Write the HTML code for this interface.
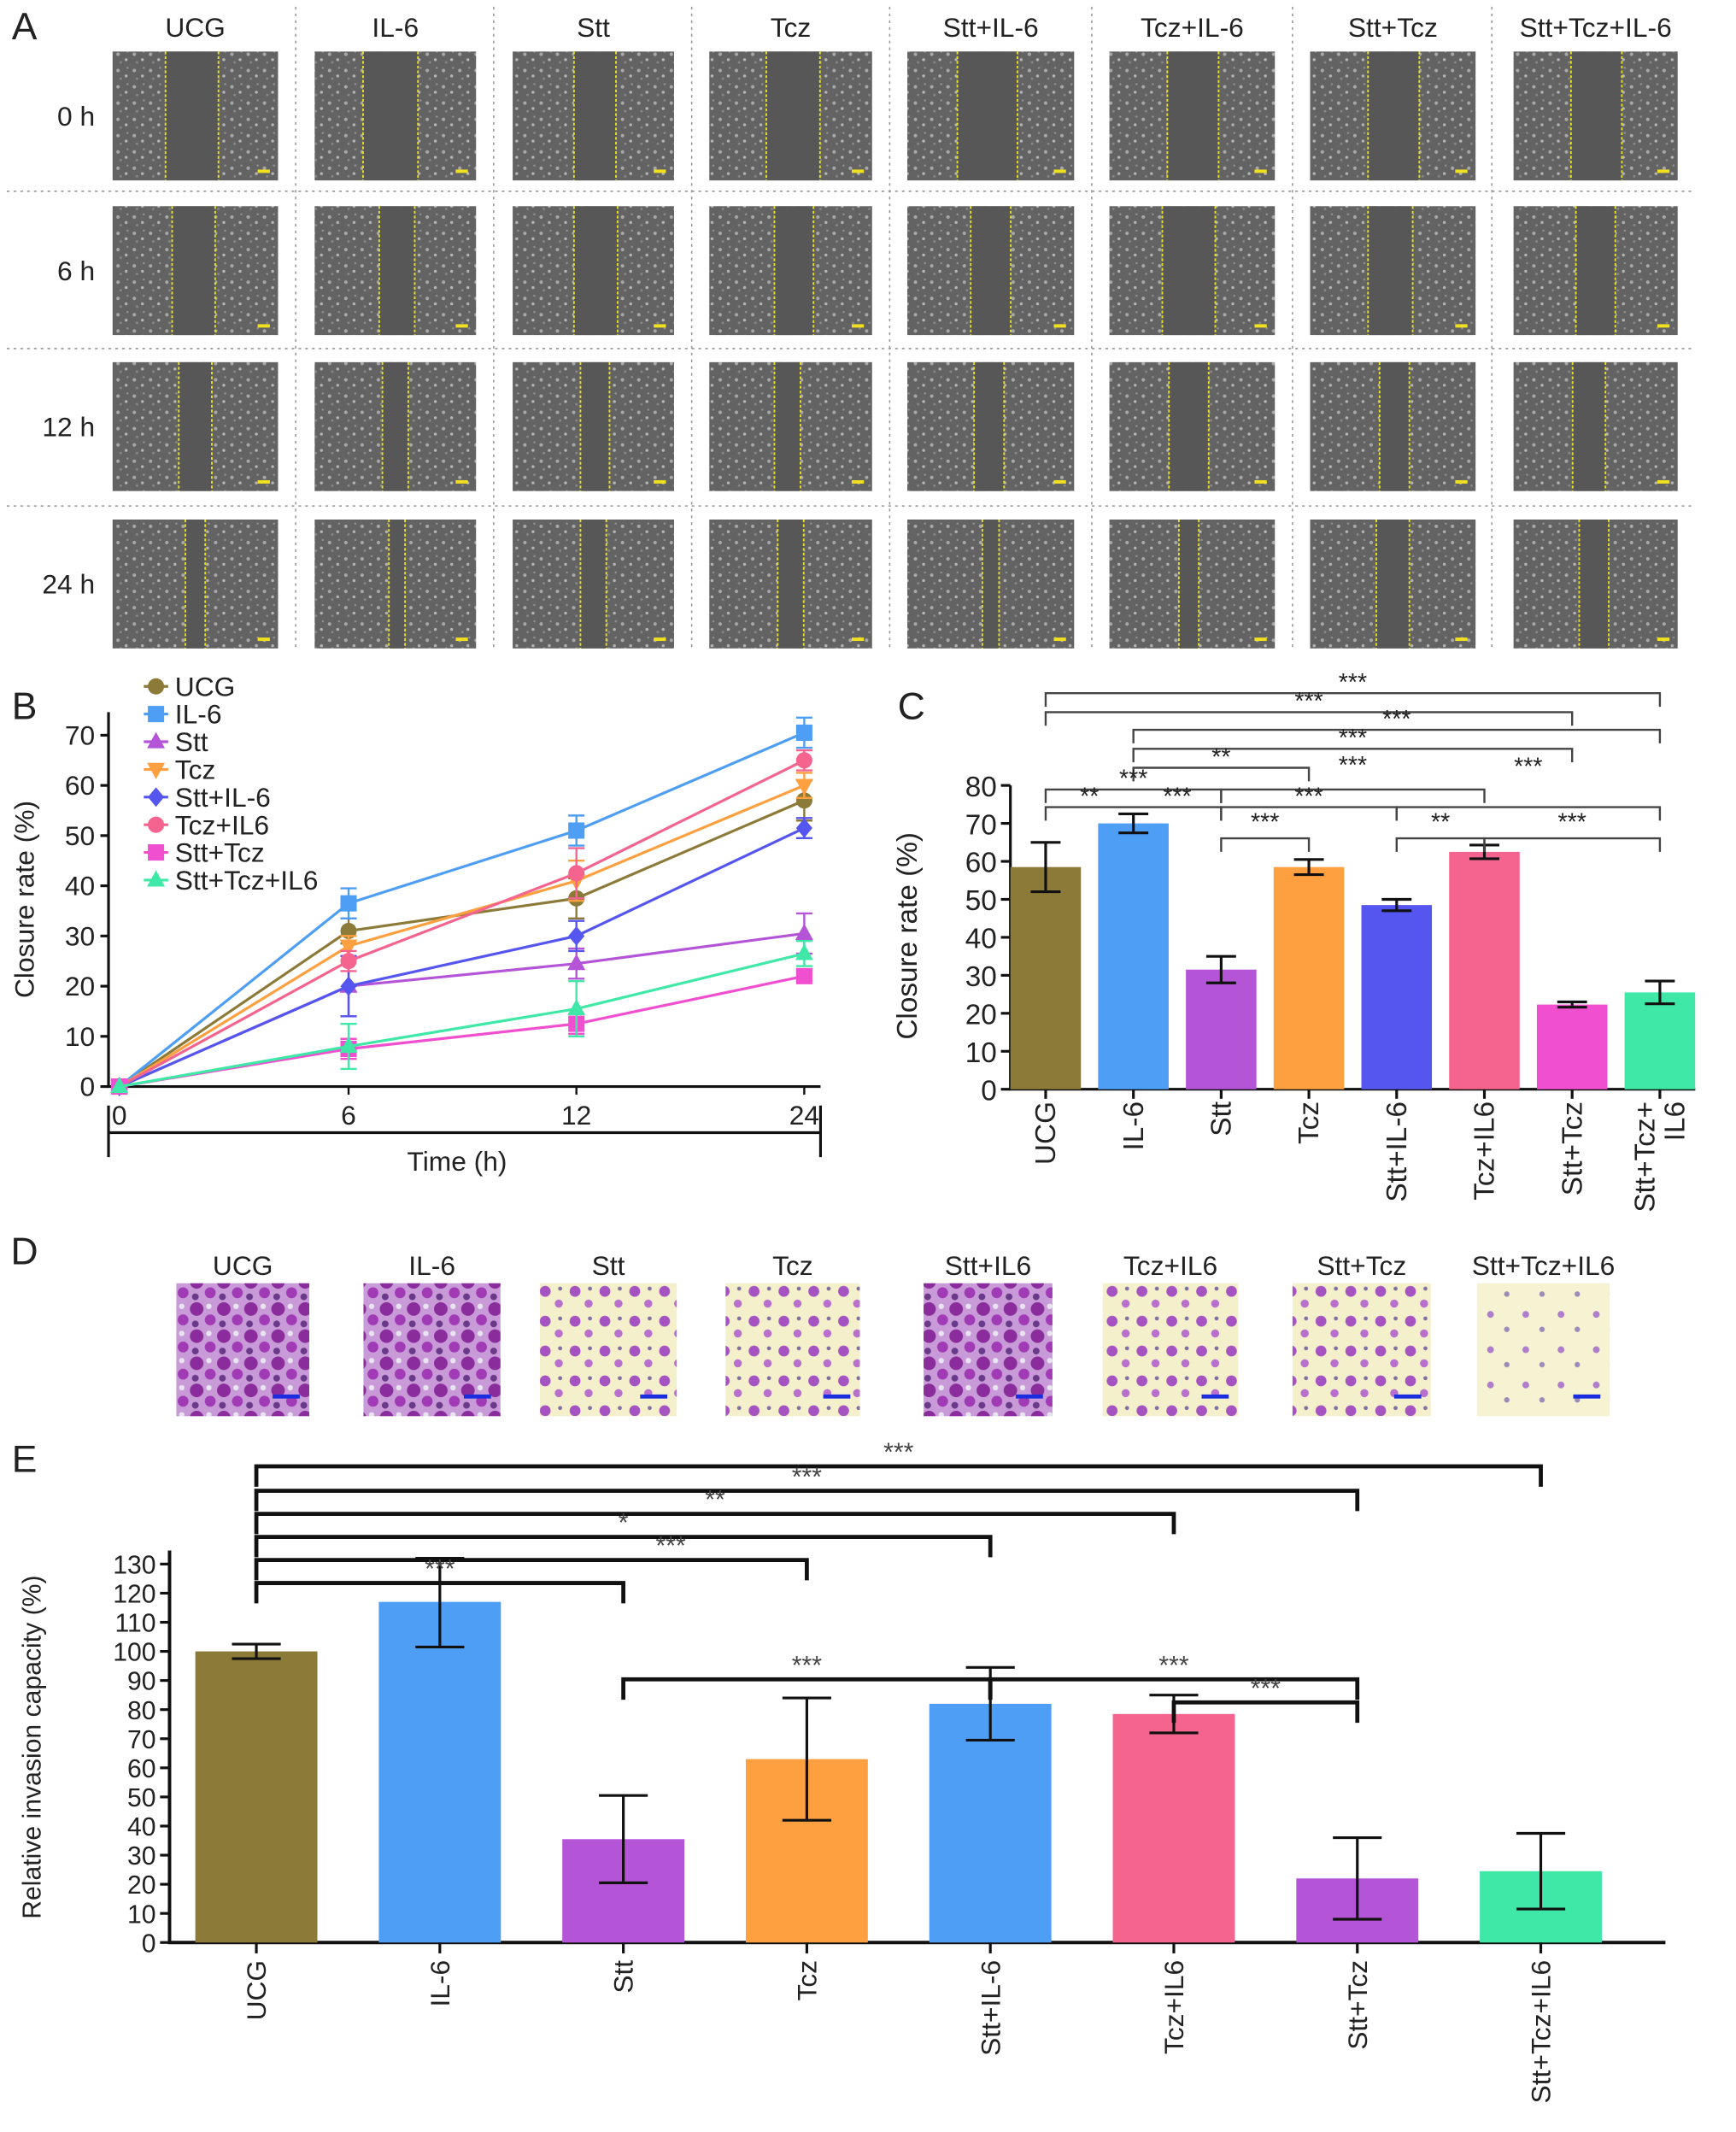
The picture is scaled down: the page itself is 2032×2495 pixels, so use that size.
<!DOCTYPE html>
<html><head><meta charset="utf-8"><style>
html,body{margin:0;padding:0;background:#fff}
svg{display:block;font-family:"Liberation Sans",Arial,sans-serif}
</style></head><body>
<svg id="fig" width="2032" height="2495" viewBox="0 0 1280 1571.7">
<defs>
<pattern id="cells" width="12" height="12" patternUnits="userSpaceOnUse">
<rect width="12" height="12" fill="#636363"/>
<circle cx="3" cy="4" r="1.3" fill="#a8a8a8"/><circle cx="9" cy="8" r="1.1" fill="#b5b5b5"/><circle cx="5" cy="10" r="0.9" fill="#888"/><circle cx="10" cy="2" r="0.8" fill="#909090"/>
</pattern>
<pattern id="inv1" width="20" height="20" patternUnits="userSpaceOnUse">
<rect width="20" height="20" fill="#c99ad8"/>
<circle cx="5" cy="5" r="5" fill="#8a2c9c"/><circle cx="15" cy="13" r="4" fill="#a03bb5"/><circle cx="14" cy="3" r="2" fill="#e8e4f0"/><circle cx="4" cy="16" r="2.5" fill="#6a3a8a"/>
</pattern>
<pattern id="inv2" width="22" height="22" patternUnits="userSpaceOnUse">
<rect width="22" height="22" fill="#f4f0cc"/>
<circle cx="6" cy="6" r="4" fill="#a553c0"/><circle cx="16" cy="15" r="3" fill="#b870cc"/><circle cx="17" cy="4" r="1.5" fill="#8070a0"/>
</pattern>
<pattern id="inv3" width="26" height="26" patternUnits="userSpaceOnUse">
<rect width="26" height="26" fill="#f6f3d2"/>
<circle cx="7" cy="7" r="2.5" fill="#b07ccc"/><circle cx="19" cy="18" r="2" fill="#9a8cb8"/>
</pattern>
</defs>
<g id="panelA"></g><g id="panelB"></g><g id="panelC"></g><g id="panelD"></g><g id="panelE"></g>
</svg>
<script>
// ---------- data ----------
const groupsA = ["UCG","IL-6","Stt","Tcz","Stt+IL-6","Tcz+IL-6","Stt+Tcz","Stt+Tcz+IL-6"];
const timesA = ["0 h","6 h","12 h","24 h"];
const timeVals = [0,6,12,24];
const seriesNames = ["UCG","IL-6","Stt","Tcz","Stt+IL-6","Tcz+IL6","Stt+Tcz","Stt+Tcz+IL6"];
const seriesColors = ["#8b7a38","#4e9ef5","#b455d8","#ffa040","#5555f0","#f5648f","#f050d0","#40e8a8"];
const markers = ["circle","square","tri","tridown","diamond","circle","square","tri"];
const ucgVals = [0,31,37.5,57];
const il6Vals = [0,36.5,51,70.5];
const sttVals = [0,20,24.5,30.5];
const tczVals = [0,28,41,60];
const sttIl6Vals = [0,20,30,51.5];
const tczIl6Vals = [0,25,42.5,65];
const sttTczVals = [0,7.5,12.5,22];
const allVals = [0,8,15.5,26.5];
const ucgErr = [0,2.5,4,4];
const il6Err = [0,3,3,3];
const sttErr = [0,6,3,4];
const tczErr = [0,2,4,2.5];
const sttIl6Err = [0,6,3,2];
const tczIl6Err = [0,2,5,2];
const sttTczErr = [0,2,2,1];
const allErr = [0,4.5,5.5,2.5];
const lineVals = [ucgVals,il6Vals,sttVals,tczVals,sttIl6Vals,tczIl6Vals,sttTczVals,allVals];
const lineErrs = [ucgErr,il6Err,sttErr,tczErr,sttIl6Err,tczIl6Err,sttTczErr,allErr];
const yTicksB = [0,10,20,30,40,50,60,70];

const catsC = ["UCG","IL-6","Stt","Tcz","Stt+IL-6","Tcz+IL6","Stt+Tcz","Stt+Tcz+|IL6"];
const valsC = [58.5,70,31.5,58.5,48.5,62.5,22.3,25.5];
const errC = [6.5,2.5,3.5,2,1.5,1.8,0.7,3];
const colorsC = ["#8b7a38","#4e9ef5","#b455d8","#ffa040","#5555f0","#f5648f","#f050d0","#40e8a8"];
const yTicksC = [0,10,20,30,40,50,60,70,80];
const sigC = [[0,7,511,"***"],[0,6,525,"***"],[1,7,538,"***"],[1,6,552,"***"],[1,3,566,"**"],
  [0,2,582,"***"],[2,5,582,"***"],[0,2,595,"**|***"],[2,4,595,"***"],[4,7,595,"***"],
  [2,3,618,"***"],[4,5,618,"**"],[5,7,618,"***"]];

const catsD = ["UCG","IL-6","Stt","Tcz","Stt+IL6","Tcz+IL6","Stt+Tcz","Stt+Tcz+IL6"];

const catsE = ["UCG","IL-6","Stt","Tcz","Stt+IL-6","Tcz+IL6","Stt+Tcz","Stt+Tcz+IL6"];
const valsE = [100,117,35.5,63,82,78.5,22,24.5];
const errUpE = [2.5,15,15,21,12.5,6.5,14,13];
const errDnE = [2.5,15.5,15,21,12.5,6.5,14,13];
const colorsE = ["#8b7a38","#4e9ef5","#b455d8","#ffa040","#4e9ef5","#f5648f","#b455d8","#40e8a8"];
const yTicksE = [0,10,20,30,40,50,60,70,80,90,100,110,120,130];
const sigE = [[0,7,1081,"***"],[0,6,1099,"***"],[0,5,1116,"**"],[0,4,1133,"*"],[0,3,1150,"***"],[0,2,1167,"***"],
  [2,4,1238,"***"],[4,6,1238,"***"],[5,6,1255,"***"]];

// ---------- helpers ----------
const NS="http://www.w3.org/2000/svg";
function mk(parent,tag,attrs,text){const e=document.createElementNS(NS,tag);for(const k in attrs)e.setAttribute(k,attrs[k]);if(text!==undefined)e.textContent=text;parent.appendChild(e);return e;}
function txt(p,x,y,s,size,anchor,name,extra){const t=mk(p,"text",Object.assign({x:x,y:y,"font-size":size,"text-anchor":anchor||"middle",fill:"#222"},extra||{}),s);


return t;}

// ---------- Panel A ----------
(function(){
const g=document.getElementById("panelA");
txt(g,18,29,"A",28,"middle","panel-label-a");
const colX=[83,232,378,523,669,818,966,1116], colW=[122,119,119,120,123,122,122,121];
const rowY=[38,152,267,383], rowH=95;
const gapL=[[0.32,0.30,0.38,0.35,0.30,0.35,0.35,0.35],[0.36,0.40,0.38,0.40,0.38,0.32,0.35,0.38],[0.40,0.42,0.42,0.40,0.40,0.36,0.42,0.36],[0.44,0.46,0.42,0.42,0.45,0.42,0.40,0.40]];
const gapR=[[0.64,0.64,0.64,0.68,0.66,0.66,0.66,0.66],[0.62,0.62,0.65,0.64,0.62,0.64,0.62,0.62],[0.60,0.58,0.60,0.56,0.58,0.60,0.60,0.56],[0.56,0.56,0.58,0.58,0.55,0.54,0.60,0.58]];
groupsA.forEach((n,i)=>{txt(g,colX[i]+colW[i]/2,27,n,20,"middle","column-header-"+i);});
timesA.forEach((t,j)=>{txt(g,70,rowY[j]+rowH/2+7,t,20,"end","row-label-"+j);});
[218,364,510,656,805,953,1100].forEach((x,i)=>{const l=mk(g,"line",{x1:x,y1:5,x2:x,y2:480,stroke:"#999","stroke-dasharray":"2,3","stroke-width":1});

});
[141,257,373].forEach(y=>{const l=mk(g,"line",{x1:5,y1:y,x2:1250,y2:y,stroke:"#999","stroke-dasharray":"2,3","stroke-width":1});

});
for(let j=0;j<4;j++)for(let i=0;i<8;i++){
 const x=colX[i],y=rowY[j],w=colW[i];
 const r=mk(g,"rect",{x:x,y:y,width:w,height:rowH,fill:"url(#cells)"});
 
 
 const gr=mk(g,"rect",{x:x+w*gapL[j][i],y:y,width:w*(gapR[j][i]-gapL[j][i]),height:rowH,fill:"#575757"});
 
 
 [gapL[j][i],gapR[j][i]].forEach(f=>{const l=mk(g,"line",{x1:x+w*f,y1:y,x2:x+w*f,y2:y+rowH,stroke:"#e8e020","stroke-width":1.2,"stroke-dasharray":"2,1.5"});
 
 });
 const sb=mk(g,"rect",{x:x+w-15,y:y+rowH-8,width:9,height:2.5,fill:"#f0e020"});
 
 
}
})();

// ---------- Panel B ----------
(function(){
const g=document.getElementById("panelB");
txt(g,18,530,"B",28,"middle","panel-label-b");
const y0=801, yPer=3.7;
const xs=t=>{const idx=timeVals.indexOf(t);return [88,257,425,593][idx];};
const ys=v=>y0-v*yPer;
const ax=mk(g,"path",{d:`M80,525 L80,801 L605,801`,fill:"none",stroke:"#111","stroke-width":2});


yTicksB.forEach(v=>{mk(g,"line",{x1:74,y1:ys(v),x2:80,y2:ys(v),stroke:"#111","stroke-width":2});
txt(g,70,ys(v)+7,String(v),20,"end","y-tick-b");});
timeVals.forEach(t=>{mk(g,"line",{x1:xs(t),y1:801,x2:xs(t),y2:807,stroke:"#111","stroke-width":1.5});
txt(g,xs(t),829,String(t),20,"middle","x-tick-b");});
const br=mk(g,"path",{d:"M80,815 L80,853 M80,835 L605,835 M605,815 L605,853",fill:"none",stroke:"#111","stroke-width":2});


txt(g,337,863,"Time (h)",20,"middle","x-axis-title-b");
txt(g,0,0,"Closure rate (%)",20,"middle","y-axis-title-b",{transform:"translate(25,663) rotate(-90)"});
function marker(p,type,cx,cy,s,c){let e;
 if(type==="circle")e=mk(p,"circle",{cx:cx,cy:cy,r:s,fill:c});
 else if(type==="square")e=mk(p,"rect",{x:cx-s,y:cy-s,width:2*s,height:2*s,fill:c});
 else if(type==="tri")e=mk(p,"path",{d:`M${cx},${cy-s*1.2} L${cx+s*1.1},${cy+s*0.8} L${cx-s*1.1},${cy+s*0.8}Z`,fill:c});
 else if(type==="tridown")e=mk(p,"path",{d:`M${cx},${cy+s*1.2} L${cx+s*1.1},${cy-s*0.8} L${cx-s*1.1},${cy-s*0.8}Z`,fill:c});
 else e=mk(p,"path",{d:`M${cx},${cy-s*1.2} L${cx+s},${cy} L${cx},${cy+s*1.2} L${cx-s},${cy}Z`,fill:c});
 return e;}
lineVals.forEach((vals,si)=>{
 const c=seriesColors[si];
 const sg=mk(g,"g",{});
 
 
 mk(sg,"polyline",{points:vals.map((v,k)=>xs(timeVals[k])+","+ys(v)).join(" "),fill:"none",stroke:c,"stroke-width":2});
 vals.forEach((v,k)=>{const e=lineErrs[si][k];const x=xs(timeVals[k]);
  if(e>0){mk(sg,"path",{d:`M${x},${ys(v+e)} L${x},${ys(v-e)} M${x-6},${ys(v+e)} L${x+6},${ys(v+e)} M${x-6},${ys(v-e)} L${x+6},${ys(v-e)}`,stroke:c,"stroke-width":1.5,fill:"none"});}
  const m=marker(sg,markers[si],x,ys(v),6,c);
  
  
 });
});
const lg=mk(g,"g",{});


seriesNames.forEach((n,i)=>{const y=506+i*20.4;
 mk(lg,"line",{x1:106,y1:y,x2:124,y2:y,stroke:seriesColors[i],"stroke-width":2});
 marker(lg,markers[i],115,y,6,seriesColors[i]);
 txt(lg,129,y+7,n,20,"start","legend-entry");});
})();

// ---------- Panel C ----------
(function(){
const g=document.getElementById("panelC");
txt(g,672,530,"C",28,"middle","panel-label-c");
const y0=803,yPer=2.8,xAx=745;
const ys=v=>y0-v*yPer; const xc=i=>771+i*64.7; const bw=52;
mk(g,"path",{d:`M${xAx},579 L${xAx},${y0} L1250,${y0}`,fill:"none",stroke:"#111","stroke-width":2});
yTicksC.forEach(v=>{mk(g,"line",{x1:xAx-7,y1:ys(v),x2:xAx,y2:ys(v),stroke:"#111","stroke-width":2});
 txt(g,xAx-10,ys(v)+8,String(v),21,"end","y-tick-c");});
txt(g,0,0,"Closure rate (%)",21,"middle","y-axis-title-c",{transform:"translate(676,690) rotate(-90)"});
catsC.forEach((c,i)=>{const x=xc(i);
 const b=mk(g,"rect",{x:x-bw/2,y:ys(valsC[i]),width:bw,height:valsC[i]*yPer,fill:colorsC[i]});
 
 
 const e=errC[i];
 mk(g,"path",{d:`M${x},${ys(valsC[i]+e)} L${x},${ys(valsC[i]-e)} M${x-11},${ys(valsC[i]+e)} L${x+11},${ys(valsC[i]+e)} M${x-11},${ys(valsC[i]-e)} L${x+11},${ys(valsC[i]-e)}`,stroke:"#111","stroke-width":2,fill:"none"});
 mk(g,"line",{x1:x,y1:y0,x2:x,y2:y0+7,stroke:"#111","stroke-width":2});
 const parts=c.split("|");
 parts.forEach((p,k)=>{txt(g,0,0,p,21,"end","x-tick-c",{transform:`translate(${x+7+(parts.length>1?(k-0.5)*22:0)},812) rotate(-90)`});});
});
sigC.forEach(s=>{const a=xc(s[0]),b=xc(s[1]),y=s[2];
 const p=mk(g,"path",{d:`M${a},${y+10} L${a},${y} L${b},${y} L${b},${y+10}`,fill:"none",stroke:"#444","stroke-width":1.5});
 
 
 const labs=s[3].split("|");
 if(labs.length>1){txt(g,(a+xc(1))/2,y-2,labs[0],18,"middle","significance-label");txt(g,(xc(1)+b)/2,y-2,labs[1],18,"middle","significance-label");}
 else if(s[0]===0&&s[1]===2&&y<590){txt(g,xc(1),y-2,labs[0],18,"middle","significance-label");}
 else txt(g,(a+b)/2,y-(y>600?6:2)-(s[0]===2&&s[1]===5?10:0)-(s[0]===4&&s[1]===7?22:0),labs[0],18,"middle","significance-label");
});
})();

// ---------- Panel D ----------
(function(){
const g=document.getElementById("panelD");
txt(g,18,932,"D",28,"middle","panel-label-d");
const dx=[130,268,398,535,681,813,953,1089], dw=[98,101,101,99,95,100,102,98];
const fills=["url(#inv1)","url(#inv1)","url(#inv2)","url(#inv2)","url(#inv1)","url(#inv2)","url(#inv2)","url(#inv3)"];
catsD.forEach((c,i)=>{txt(g,dx[i]+dw[i]/2,940,c,20,"middle","invasion-label-"+i);
 const r=mk(g,"rect",{x:dx[i],y:946,width:dw[i],height:98,fill:fills[i]});
 
 
 mk(g,"rect",{x:dx[i]+dw[i]-27,y:1028,width:20,height:3,fill:"#1a2ee0"});
});
})();

// ---------- Panel E ----------
(function(){
const g=document.getElementById("panelE");
txt(g,18,1085,"E",28,"middle","panel-label-e");
const y0=1432,yPer=2.146,xAx=125;
const ys=v=>y0-v*yPer; const xc=i=>189+i*135.3; const bw=90;
mk(g,"path",{d:`M${xAx},1143 L${xAx},${y0} L1228,${y0}`,fill:"none",stroke:"#111","stroke-width":2.5});
yTicksE.forEach(v=>{mk(g,"line",{x1:xAx-7,y1:ys(v),x2:xAx,y2:ys(v),stroke:"#111","stroke-width":2});
 txt(g,xAx-10,ys(v)+7,String(v),19,"end","y-tick-e");});
txt(g,0,0,"Relative invasion capacity (%)",19,"middle","y-axis-title-e",{transform:"translate(30,1288) rotate(-90)"});
catsE.forEach((c,i)=>{const x=xc(i);
 const b=mk(g,"rect",{x:x-bw/2,y:ys(valsE[i]),width:bw,height:valsE[i]*yPer,fill:colorsE[i]});
 
 
 const hi=ys(valsE[i]+errUpE[i]),lo=ys(valsE[i]-errDnE[i]);
 mk(g,"path",{d:`M${x},${hi} L${x},${lo} M${x-18},${hi} L${x+18},${hi} M${x-18},${lo} L${x+18},${lo}`,stroke:"#111","stroke-width":2,fill:"none"});
 mk(g,"line",{x1:x,y1:y0,x2:x,y2:y0+8,stroke:"#111","stroke-width":2});
 txt(g,0,0,c,20,"end","x-tick-e",{transform:`translate(${x+7},1445) rotate(-90)`});
});
sigE.forEach(s=>{const a=xc(s[0]),b=xc(s[1]),y=s[2];
 const p=mk(g,"path",{d:`M${a},${y+15} L${a},${y} L${b},${y} L${b},${y+15}`,fill:"none",stroke:"#111","stroke-width":3});
 
 
 let lx=(a+b)/2; if(s[0]===0&&s[1]===2)lx=xc(1);
 if(s[0]===0&&s[1]===3)lx=(xc(1)+xc(3))/2+35;
 txt(g,lx,y-4,s[3],19,"middle","significance-label",{fill:"#444"});
});
})();
</script>
</body></html>
